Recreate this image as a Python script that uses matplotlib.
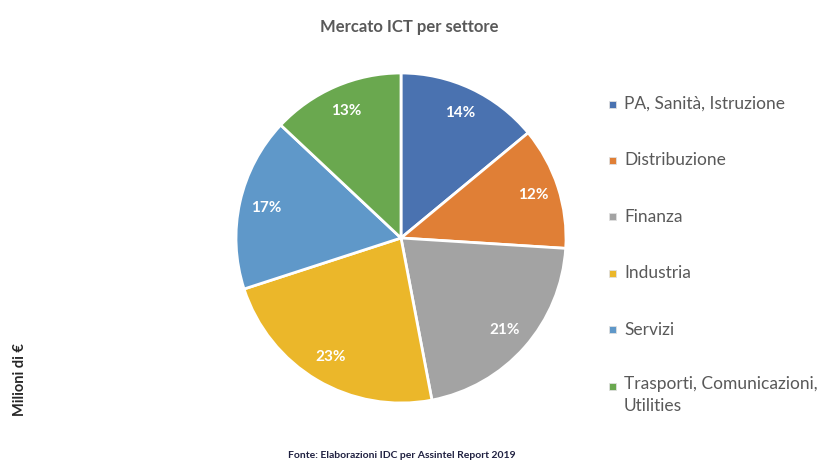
import matplotlib
matplotlib.use('agg')
import matplotlib.pyplot as plt
from matplotlib.patches import Rectangle

# data
settori = ['PA, Sanità, Istruzione', 'Distribuzione', 'Finanza', 'Industria',
           'Servizi', 'Trasporti, Comunicazioni,\nUtilities']
quote = [14, 12, 21, 23, 17, 13]
colori = ['#4a72b0', '#e07f36', '#a3a3a3', '#ebb72a', '#5f98c9', '#6aa84f']

plt.rcParams['font.family'] = ['Lato', 'DejaVu Sans']
grigio = '#595959'

fig = plt.figure(figsize=(8.24, 4.62), dpi=100)
ax = fig.add_axes([0.2864, 0.1277, 0.4005, 0.7143])
wedges, texts, autotexts = ax.pie(
    quote, colors=colori, startangle=90, counterclock=False, radius=1,
    autopct='%d%%', pctdistance=0.84,
    wedgeprops=dict(edgecolor='white', linewidth=2),
    textprops=dict(color='white', fontsize=11, fontweight='bold'))
ax.set_xlim(-1.0, 1.0)
ax.set_ylim(-1.0, 1.0)
ax.set_aspect('equal')
ax.axis('off')

fig.text(409 / 824, 1 - 27 / 462, 'Mercato ICT per settore', ha='center', va='center',
         fontsize=12, fontweight='bold', color=grigio)

# legend drawn by hand
y0 = 104
for i, (lab, c) in enumerate(zip(settori, colori)):
    y = y0 + i * 56.4
    fig.patches.append(Rectangle((609 / 824, 1 - (y + 3.5) / 462), 7 / 824, 7 / 462,
                                 transform=fig.transFigure, facecolor=c,
                                 edgecolor='#e0e0e0', linewidth=0.6))
    if '\n' in lab:
        fig.text(624 / 824, 1 - (y - 10) / 462, lab, ha='left', va='top',
                 fontsize=12.5, color=grigio, linespacing=1.45)
    else:
        fig.text(624 / 824, 1 - y / 462, lab, ha='left', va='center',
                 fontsize=12.5, color=grigio)

fig.text(20 / 824, 1 - 380 / 462, 'Milioni di €', rotation=90, ha='center', va='center',
         fontsize=10.5, fontweight='bold', color='#262626')
fig.text(402 / 824, 1 - 456 / 462, 'Fonte: Elaborazioni IDC per Assintel Report 2019',
         ha='center', va='center', fontsize=7.5, fontweight='bold', color='#1f2040')

fig.savefig('out.png', dpi=100)
